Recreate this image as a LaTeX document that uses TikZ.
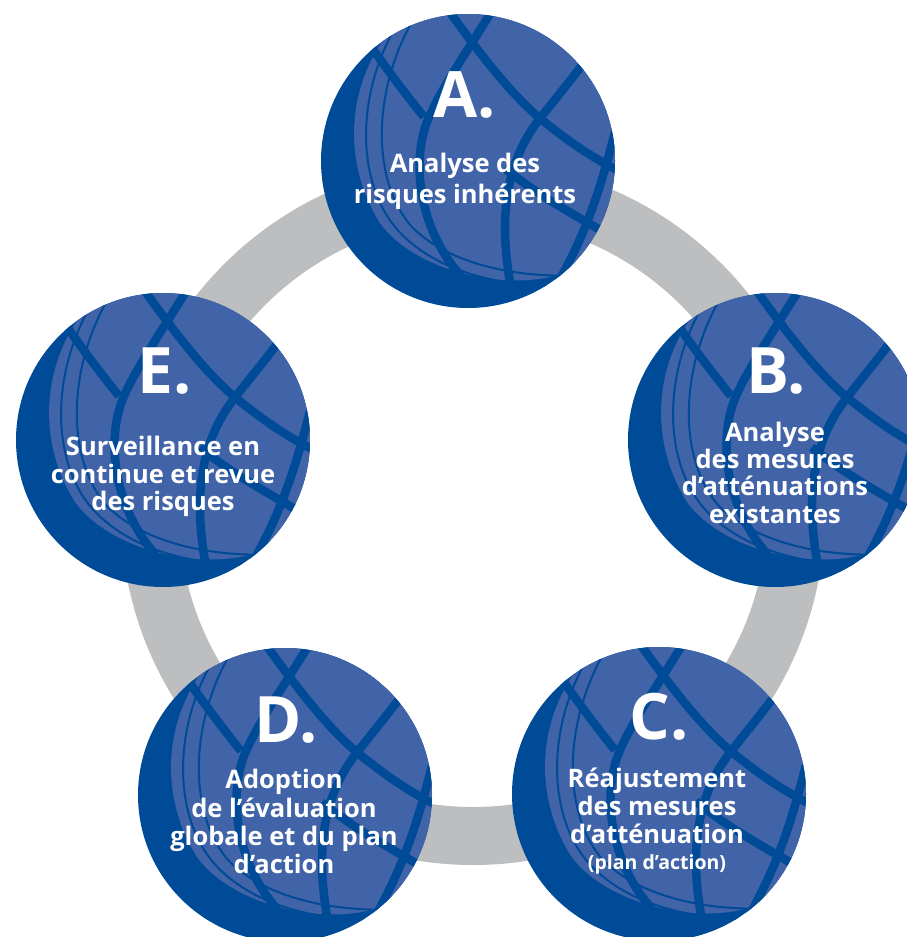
\documentclass[tikz,border=0pt]{standalone}
\usepackage{fontspec}
\setmainfont{Open Sans}
\definecolor{dk}{HTML}{004B98}
\definecolor{lt}{HTML}{4163A8}
\definecolor{ringgray}{HTML}{BCBEC0}
\tikzset{
  disc/.style={circle, minimum size=294pt, inner sep=0pt, fill=dk},
  letter/.style={text=white, font=\bfseries\fontsize{64}{64}\selectfont, anchor=base, inner sep=0pt},
  body/.style={text=white, font=\bfseries\fontsize{25.5}{25.5}\selectfont, anchor=base, inner sep=0pt},
  smalltxt/.style={text=white, font=\bfseries\fontsize{19.5}{19.5}\selectfont, anchor=base, inner sep=0pt},
  band/.style={draw=dk, line width=8.5pt},
  thinband/.style={draw=dk, line width=2pt},
  ringline/.style={draw=ringgray, line width=58pt},
}
\newcommand\globepattern{%
  \begin{scope}
    \clip (0,0) circle (1);
    \fill[lt] (-0.5,1.1) -- (-0.55,0.86) .. controls (-0.82,0.5) and (-0.86,0.0) .. (-0.6,-0.42)
      .. controls (-0.4,-0.7) and (0.1,-0.86) .. (0.5,-0.8)
      .. controls (0.7,-0.77) and (0.9,-0.62) .. (1.1,-0.5) -- (1.1,1.1) -- cycle;
    \draw[thinband] (-0.5,0.9) .. controls (-0.78,0.4) and (-0.75,-0.2) .. (-0.45,-0.5)
      .. controls (-0.2,-0.75) and (0.2,-0.85) .. (0.6,-0.85);
    \draw[thinband] (-0.38,0.95) .. controls (-0.66,0.45) and (-0.65,-0.15) .. (-0.38,-0.45)
      .. controls (-0.15,-0.68) and (0.25,-0.78) .. (0.65,-0.78);
    \draw[band] (-0.15,1.05) .. controls (0.1,0.7) and (0.3,0.45) .. (0.49,0.29)
      .. controls (0.7,0.12) and (0.85,0.02) .. (1.05,-0.08);
    \draw[band] (0.18,1.05) .. controls (0.0,0.75) and (-0.25,0.4) .. (-0.3,0.2)
      .. controls (-0.38,-0.1) and (-0.3,-0.5) .. (-0.05,-0.78);
    \draw[band] (0.85,0.75) .. controls (0.7,0.55) and (0.6,0.43) .. (0.49,0.29)
      .. controls (0.3,0.05) and (0.18,-0.3) .. (0.3,-0.9);
    \draw[band] (-0.66,0.78) .. controls (-0.5,0.55) and (-0.38,0.4) .. (-0.3,0.3);
    \draw[band] (0.25,-0.05) .. controls (0.5,-0.25) and (0.7,-0.35) .. (0.95,-0.5);
    \draw[band] (1.0,0.2) .. controls (0.9,-0.2) and (0.8,-0.5) .. (0.6,-0.85);
  \end{scope}}
\begin{document}
\begin{tikzpicture}[x=1pt,y=-1pt]
\useasboundingbox (0,0) rectangle (907,937);
\clip (0,0) rectangle (907,937);
\fill[white] (0,0) rectangle (907,937);
\coordinate (ringc) at (473,513);
\draw[ringline] (ringc) circle (323);
\node[disc] (A) at (468,161) {};
\node[disc] (B) at (775,440) {};
\node[disc] (C) at (659,794) {};
\node[disc] (D) at (285,795) {};
\node[disc] (E) at (163,440) {};
\foreach \n in {A,B,C,D,E}{
  \begin{scope}[shift={(\n.center)}, x={(147pt,0pt)}, y={(0pt,147pt)}]
    \globepattern
  \end{scope}
}
% A
\node[letter] (lA) at (465,117) {A.};
\node[body] (A1) at (465,172) {Analyse des};
\node[body] (A2) at (465,203) {risques inhérents};
% B
\node[letter] (lB) at (776,393) {B.};
\node[body] (B1) at (775,441) {Analyse};
\node[body] (B2) at (775,468) {des mesures};
\node[body] (B3) at (775,495) {d’atténuations};
\node[body] (B4) at (775,523) {existantes};
% C
\node[letter] (lC) at (659,739) {C.};
\node[body] (C1) at (657,787) {Réajustement};
\node[body] (C2) at (657,815) {des mesures};
\node[body] (C3) at (657,843) {d’atténuation};
\node[smalltxt] (C4) at (657,869) {(plan d’action)};
% D
\node[letter] (lD) at (286,742) {D.};
\node[body] (D1) at (284,788) {Adoption};
\node[body] (D2) at (284,817) {de l’évaluation};
\node[body] (D3) at (284,845) {globale et du plan};
\node[body] (D4) at (284,873) {d’action};
% E
\node[letter] (lE) at (165,393) {E.};
\node[body] (E1) at (163,455) {Surveillance en};
\node[body] (E2) at (163,483) {continue et revue};
\node[body] (E3) at (163,510) {des risques};
\end{tikzpicture}
\end{document}
